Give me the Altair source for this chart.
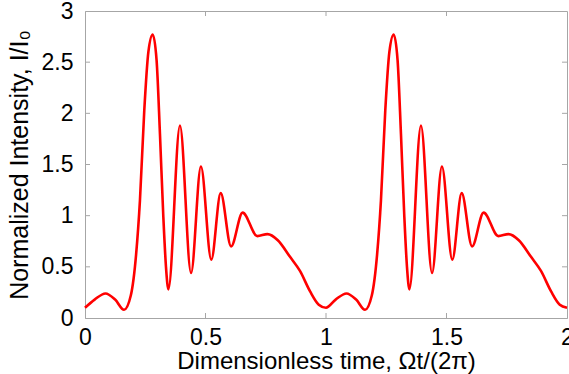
import altair as alt
import pandas as pd

# Dimensionless time (two identical periods) and normalized intensity
t_vals = [0.000, 0.040, 0.085, 0.125, 0.162, 0.190, 0.212, 0.228, 0.246, 0.263, 0.281,
          0.297, 0.311, 0.325, 0.336, 0.346, 0.394, 0.440, 0.481, 0.524, 0.563, 0.606,
          0.654, 0.715, 0.757, 0.800, 0.850, 0.892, 0.934, 0.970,
          1.000, 1.040, 1.085, 1.125, 1.162, 1.190, 1.212, 1.228, 1.246, 1.263, 1.281,
          1.297, 1.311, 1.325, 1.336, 1.346, 1.394, 1.440, 1.481, 1.524, 1.563, 1.606,
          1.654, 1.715, 1.757, 1.800, 1.850, 1.892, 1.934, 1.970, 2.000]
i_vals = [0.10, 0.18, 0.24, 0.18, 0.08, 0.22, 0.62, 1.15, 2.03, 2.60, 2.77,
          2.52, 1.80, 0.99, 0.50, 0.28, 1.88, 0.44, 1.48, 0.57, 1.22, 0.70,
          1.03, 0.80, 0.82, 0.76, 0.60, 0.46, 0.26, 0.13,
          0.10, 0.18, 0.24, 0.18, 0.08, 0.22, 0.62, 1.15, 2.03, 2.60, 2.77,
          2.52, 1.80, 0.99, 0.50, 0.28, 1.88, 0.44, 1.48, 0.57, 1.22, 0.70,
          1.03, 0.80, 0.82, 0.76, 0.60, 0.46, 0.26, 0.13, 0.10]

x_ticks = [0, 0.5, 1, 1.5, 2]
y_ticks = [0, 0.5, 1, 1.5, 2, 2.5, 3]
x_inner = [0.5, 1, 1.5]
y_inner = [0.5, 1, 1.5, 2, 2.5]

W, H = 482, 307
GREY = "#a6a6a6"
FONT = "Liberation Sans"

df = pd.DataFrame({"t": t_vals, "I": i_vals})
xt = pd.DataFrame({"t": x_inner})
yt = pd.DataFrame({"I": y_inner})

xscale = alt.Scale(domain=[0, 2], nice=False, zero=False)
yscale = alt.Scale(domain=[0, 3], nice=False)
xaxis = alt.Axis(values=x_ticks, format="~g", title="Dimensionless time, \u03a9t/(2\u03c0)",
                 ticks=False, labelPadding=8, titlePadding=0, labelFlush=False)
yaxis = alt.Axis(values=y_ticks, format="~g", title="Normalized Intensity, I/I\u2080",
                 ticks=False, labelPadding=12, titlePadding=9, titleFontSize=25)

X = alt.X("t:Q", scale=xscale, axis=xaxis)
Y = alt.Y("I:Q", scale=yscale, axis=yaxis)

line = alt.Chart(df).mark_line(color="#ff0000", strokeWidth=2.6, interpolate="monotone").encode(x=X, y=Y)

tick_len = 5
bottom = alt.Chart(xt).mark_rule(color=GREY).encode(x=X, y=alt.value(H), y2=alt.value(H - tick_len))
top = alt.Chart(xt).mark_rule(color=GREY).encode(x=X, y=alt.value(0), y2=alt.value(tick_len))
left = alt.Chart(yt).mark_rule(color=GREY).encode(y=Y, x=alt.value(0), x2=alt.value(tick_len))
right = alt.Chart(yt).mark_rule(color=GREY).encode(y=Y, x=alt.value(W), x2=alt.value(W - tick_len))

chart = alt.layer(bottom, top, left, right, line).properties(
    width=W, height=H,
    background="white",
    autosize=alt.AutoSizeParams(type="none"),
    padding={"left": 85, "top": 11, "right": 2, "bottom": 56},
).configure_view(stroke=GREY, strokeWidth=1).configure_axis(
    domainColor=GREY, grid=False, labelFont=FONT, titleFont=FONT,
    labelFontSize=23, titleFontSize=24, labelColor="#000000", titleColor="#000000",
    titleFontWeight="normal",
)

chart.save("out.html", embed_options={"renderer": "svg", "actions": False})
